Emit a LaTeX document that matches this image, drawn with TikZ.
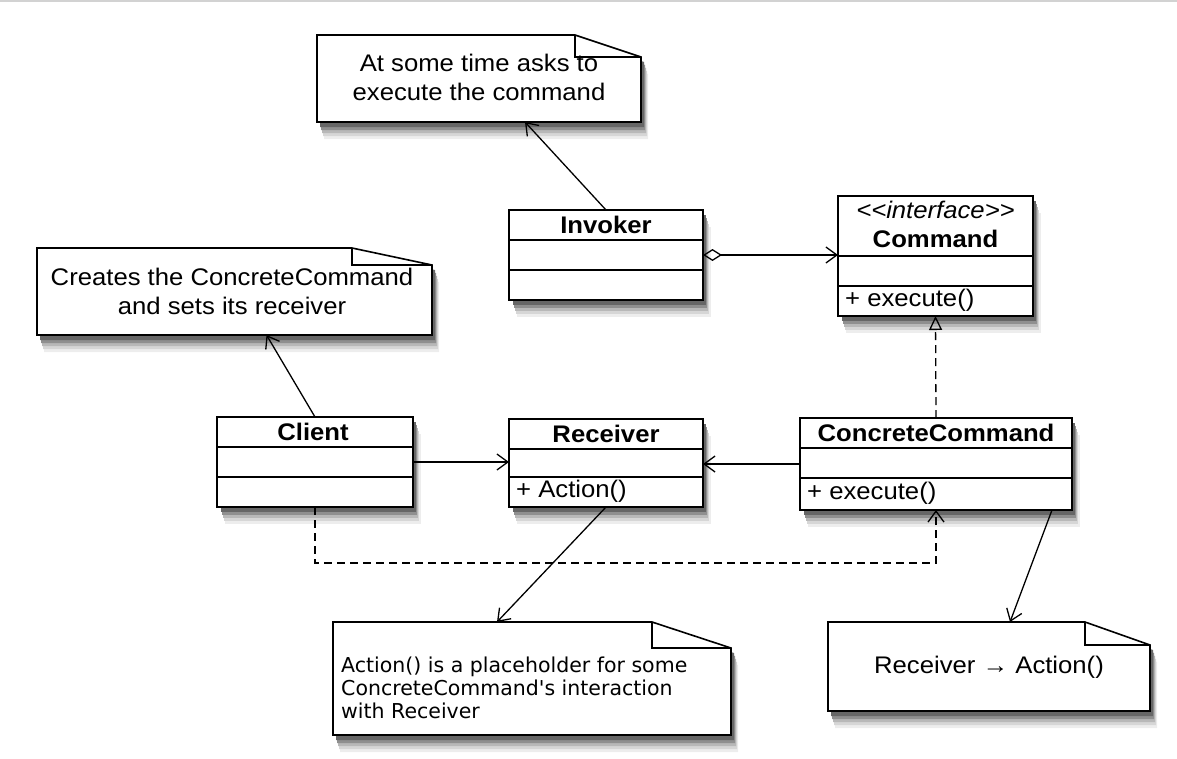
\documentclass[tikz,border=0pt]{standalone}
\usepackage{fontspec}
\setmainfont{Liberation Sans}[FakeStretch=1.07]
\newfontfamily\dejavu{DejaVu Sans}
\usetikzlibrary{arrows.meta,calc}
\definecolor{shA}{rgb}{0.93,0.93,0.93}
\definecolor{shB}{rgb}{0.84,0.84,0.84}
\definecolor{shC}{rgb}{0.72,0.72,0.72}
\definecolor{shD}{rgb}{0.56,0.56,0.56}
\definecolor{shE}{rgb}{0.40,0.40,0.40}
\newcommand\diagfont{\fontsize{24}{29}\selectfont}
\newcommand\shadowrect[4]{%
  \path[fill=shA] (#1+8,#2+17) rectangle (#3+8,#4+17);
  \path[fill=shB] (#1+7,#2+14) rectangle (#3+6,#4+14);
  \path[fill=shC] (#1+6,#2+11) rectangle (#3+5,#4+11);
  \path[fill=shD] (#1+5,#2+8) rectangle (#3+4,#4+8);
  \path[fill=shE] (#1+4,#2+5) rectangle (#3+3,#4+5);}
\newcommand\notepoly[6]{(#1,#2) -- (#3,#2) -- (#5,#4) -- (#5,#6) -- (#1,#6) -- cycle}
\newcommand\shadownote[6]{%
  \path[fill=shA,xshift=7pt,yshift=-17pt] \notepoly{#1}{#2}{#3}{#4}{#5}{#6};
  \path[fill=shB,xshift=6pt,yshift=-14pt] \notepoly{#1}{#2}{#3}{#4}{#5}{#6};
  \path[fill=shC,xshift=5pt,yshift=-11pt] \notepoly{#1}{#2}{#3}{#4}{#5}{#6};
  \path[fill=shD,xshift=4pt,yshift=-8pt] \notepoly{#1}{#2}{#3}{#4}{#5}{#6};
  \path[fill=shE,xshift=3pt,yshift=-5pt] \notepoly{#1}{#2}{#3}{#4}{#5}{#6};}
\tikzset{
  umlbox/.style={draw=black,line width=1.6pt,fill=white,inner sep=0pt,outer sep=0pt},
  notearea/.style={inner sep=0pt,outer sep=0pt},
  noteline/.style={draw=black,line width=1.6pt,fill=white,line join=miter},
  sepline/.style={line width=1.6pt},
  conn/.style={line width=1.3pt},
  openhead/.style={-{Straight Barb[length=11pt,width=16pt,line width=1.3pt]}},
  dashline/.style={dash pattern=on 8pt off 5pt},
  txt/.style={font=\diagfont,inner sep=0pt},
}
\begin{document}
\begin{tikzpicture}[x=1pt,y=-1pt]
\useasboundingbox (0,0) rectangle (1177,758);
\fill[gray!35] (0,0) rectangle (1177,2);

% ---------- shadows ----------
\shadowrect{509}{210}{703}{300}
\shadowrect{838}{196}{1033}{316}
\shadowrect{217}{417}{413}{507}
\shadowrect{509}{419}{703}{507}
\shadowrect{800}{418}{1072}{510}
\shadownote{317}{35}{575}{57}{641}{122}
\shadownote{37}{248}{352}{265}{432}{335}
\shadownote{333}{622}{652}{648}{731}{735}
\shadownote{828}{622}{1085}{645}{1150}{711}

% ---------- classes ----------
\node[umlbox,minimum width=194pt,minimum height=90pt] (invoker) at (606,255) {};
\draw[sepline] ($(invoker.north west)+(0,30)$) -- ($(invoker.north east)+(0,30)$);
\draw[sepline] ($(invoker.north west)+(0,60)$) -- ($(invoker.north east)+(0,60)$);
\node[txt,font=\diagfont\bfseries] (invokerT) at (606,225) {Invoker};

\node[umlbox,minimum width=195pt,minimum height=120pt] (command) at (935.5,256) {};
\draw[sepline] ($(command.north west)+(0,60)$) -- ($(command.north east)+(0,60)$);
\draw[sepline] ($(command.north west)+(0,90)$) -- ($(command.north east)+(0,90)$);
\node[txt,font=\diagfont\itshape] (commandS) at (935.5,210) {{<}{<}interface{>}{>}};
\node[txt,font=\diagfont\bfseries] (commandT) at (935.5,239) {Command};
\node[txt,anchor=west] (commandM) at ($(command.north west)+(7,104)$) {+ execute()};

\node[umlbox,minimum width=196pt,minimum height=90pt] (client) at (315,462) {};
\draw[sepline] ($(client.north west)+(0,30)$) -- ($(client.north east)+(0,30)$);
\draw[sepline] ($(client.north west)+(0,60)$) -- ($(client.north east)+(0,60)$);
\node[txt,font=\diagfont\bfseries] (clientT) at (313,432) {Client};

\node[umlbox,minimum width=194pt,minimum height=88pt] (receiver) at (606,463) {};
\draw[sepline] ($(receiver.north west)+(0,30)$) -- ($(receiver.north east)+(0,30)$);
\draw[sepline] ($(receiver.north west)+(0,58)$) -- ($(receiver.north east)+(0,58)$);
\node[txt,font=\diagfont\bfseries] (receiverT) at (606,434) {Receiver};
\node[txt,anchor=west] (receiverM) at ($(receiver.north west)+(7,72)$) {+ Action()};

\node[umlbox,minimum width=272pt,minimum height=92pt] (concrete) at (936,464) {};
\draw[sepline] ($(concrete.north west)+(0,30)$) -- ($(concrete.north east)+(0,30)$);
\draw[sepline] ($(concrete.north west)+(0,60)$) -- ($(concrete.north east)+(0,60)$);
\node[txt,font=\diagfont\bfseries] (concreteT) at (936,433) {ConcreteCommand};
\node[txt,anchor=west] (concreteM) at ($(concrete.north west)+(7,75)$) {+ execute()};

% ---------- notes ----------
\node[notearea,minimum width=324pt,minimum height=87pt] (n1) at (479,78.5) {};
\path[noteline] \notepoly{317}{35}{575}{57}{641}{122};
\draw[sepline] (575,35) -- (575,57) -- (641,57);
\node[txt,align=center] (n1T) at (479,77) {At some time asks to\\execute the command};

\node[notearea,minimum width=395pt,minimum height=87pt] (n2) at (234.5,291.5) {};
\path[noteline] \notepoly{37}{248}{352}{265}{432}{335};
\draw[sepline] (352,248) -- (352,265) -- (432,265);
\node[txt,align=center] (n2T) at (232,291) {Creates the ConcreteCommand\\and sets its receiver};

\node[notearea,minimum width=398pt,minimum height=113pt] (n3) at (532,678.5) {};
\path[noteline] \notepoly{333}{622}{652}{648}{731}{735};
\draw[sepline] (652,622) -- (652,648) -- (731,648);
\node[inner sep=0pt,anchor=west,align=left,font=\dejavu\fontsize{20.5}{23}\selectfont] (n3T) at (341,688) {Action() is a placeholder for some\\ConcreteCommand{\char"27}s interaction\\with Receiver};

\node[notearea,minimum width=322pt,minimum height=89pt] (n4) at (989,666.5) {};
\path[noteline] \notepoly{828}{622}{1085}{645}{1150}{711};
\draw[sepline] (1085,622) -- (1085,645) -- (1150,645);
\node[txt] (n4T) at (989,667) {Receiver \char"2192\ Action()};

% ---------- connectors ----------
\draw[conn,openhead] (invoker.north) -- ($(n1.south)+(46,0)$);
\draw[conn,{Diamond[open,length=19pt,width=12pt,line width=1.3pt]}-{Straight Barb[length=11pt,width=16pt,line width=1.3pt]}]
  (invoker.east) -- (invoker.east -| command.west);
\draw[conn,openhead] (client.north) -- ($(n2.south)+(32,0)$);
\draw[conn,openhead] (client.east) -- (client.east -| receiver.west);
\draw[conn,openhead] (concrete.west) -- (concrete.west -| receiver.east);
\draw[conn,dashline,-{Triangle[open,length=14pt,width=13pt,line width=1.3pt]}] (concrete.north) -- (command.south);
\draw[conn,dashline,openhead] (client.south) -- ++(0,56) -| (concrete.south);
\draw[conn,openhead] (receiver.south) -- ($(n3.north)+(-35,0)$);
\draw[conn,openhead] ($(concrete.south east)+(-20,0)$) -- ($(n4.north)+(21,0)$);
\end{tikzpicture}
\end{document}
